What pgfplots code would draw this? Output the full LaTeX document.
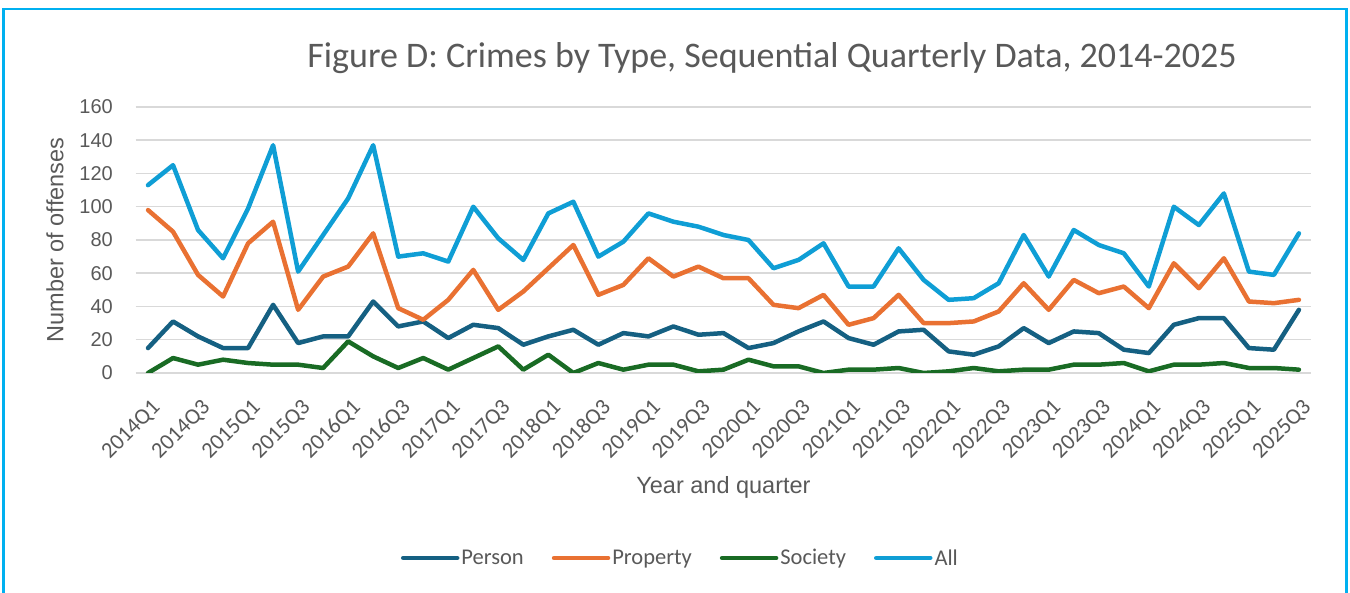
\documentclass[border=0pt]{standalone}
\usepackage{fontspec}
\setmainfont{Liberation Sans}
\newfontfamily\carlito{Carlito}
\usepackage{pgfplots}
\usepackage{pgfplotstable}
\pgfplotsset{compat=1.18}
\definecolor{cPerson}{HTML}{156082}
\definecolor{cProperty}{HTML}{E97132}
\definecolor{cSociety}{HTML}{196B24}
\definecolor{cAll}{HTML}{0F9ED5}
\definecolor{txt}{HTML}{595959}
\definecolor{gridc}{HTML}{D9D9D9}
\definecolor{framec}{HTML}{00B0F0}
\pgfplotstableread{
i person property society all
0 15 98 0 113
1 31 85 9 125
2 22 59 5 86
3 15 46 8 69
4 15 78 6 99
5 41 91 5 137
6 18 38 5 61
7 22 58 3 83
8 22 64 19 105
9 43 84 10 137
10 28 39 3 70
11 31 32 9 72
12 21 44 2 67
13 29 62 9 100
14 27 38 16 81
15 17 49 2 68
16 22 63 11 96
17 26 77 0 103
18 17 47 6 70
19 24 53 2 79
20 22 69 5 96
21 28 58 5 91
22 23 64 1 88
23 24 57 2 83
24 15 57 8 80
25 18 41 4 63
26 25 39 4 68
27 31 47 0 78
28 21 29 2 52
29 17 33 2 52
30 25 47 3 75
31 26 30 0 56
32 13 30 1 44
33 11 31 3 45
34 16 37 1 54
35 27 54 2 83
36 18 38 2 58
37 25 56 5 86
38 24 48 5 77
39 14 52 6 72
40 12 39 1 52
41 29 66 5 100
42 33 51 5 89
43 33 69 6 108
44 15 43 3 61
45 14 42 3 59
46 38 44 2 84
}\crimes
\begin{document}
\begin{tikzpicture}[x=1pt,y=1pt]
\path[use as bounding box] (0,0) rectangle (1350,593);
\draw[framec, line width=2.2pt] (3.5,-5) -- (3.5,584) -- (1346.5,584) -- (1346.5,-5);
\begin{axis}[
  at={(135.5pt,220pt)}, anchor=south west,
  scale only axis, width=1176pt, height=266pt,
  xmin=-0.5, xmax=46.5, ymin=0, ymax=160,
  axis line style={draw=none},
  xmajorgrids=false, ymajorgrids=true,
  major grid style={draw=gridc, line width=1.5pt},
  major tick length=0pt,
  ytick={0,20,...,160},
  xtick={0,2,...,46},
  xticklabels={2014Q1,2014Q3,2015Q1,2015Q3,2016Q1,2016Q3,2017Q1,2017Q3,2018Q1,2018Q3,2019Q1,2019Q3,2020Q1,2020Q3,2021Q1,2021Q3,2022Q1,2022Q3,2023Q1,2023Q3,2024Q1,2024Q3,2025Q1,2025Q3},
  /pgf/number format/assume math mode=true,
  yticklabel style={font=\fontsize{20}{24}\selectfont, text=txt, anchor=east, inner sep=0pt, xshift=-22.5pt},
  xticklabel style={font=\carlito\fontsize{22.5}{26}\selectfont, text=txt, inner sep=0pt, xshift=9pt, yshift=-31pt, rotate=45, anchor=east},
  xlabel={Year and quarter},
  ylabel={Number of offenses},
  xlabel style={font=\fontsize{23.5}{28}\selectfont, text=txt, at={(axis description cs:0.5,-0.432)}, anchor=center},
  ylabel style={font=\fontsize{23.5}{28}\selectfont, text=txt, at={(axis description cs:-0.0685,0.5)}, anchor=center},
  legend columns=4,
  legend style={draw=none, fill=none, at={(axis description cs:0.4634,-0.6955)}, anchor=center,
    font=\carlito\fontsize{22.5}{26}\selectfont, text=txt,
    /tikz/every even column/.append style={column sep=26pt},
    nodes={inner sep=2pt}},
  legend image code/.code={\draw[#1, line width=4.5pt, line cap=round] (0pt,0pt) -- (54pt,0pt);},
  every axis plot/.append style={line width=4.5pt, line join=round, line cap=round, mark=none},
]
\addplot[cPerson] table[x=i, y=person] {\crimes};
\addlegendentry{Person}
\addplot[cProperty] table[x=i, y=property] {\crimes};
\addlegendentry{Property}
\addplot[cSociety] table[x=i, y=society] {\crimes};
\addlegendentry{Society}
\addplot[cAll] table[x=i, y=all] {\crimes};
\addlegendentry{All}
\end{axis}
\node[text=txt, font=\carlito\fontsize{36}{40}\selectfont] at (772,535) {Figure D: Crimes by Type, Sequential Quarterly Data, 2014-2025};
\end{tikzpicture}
\end{document}
